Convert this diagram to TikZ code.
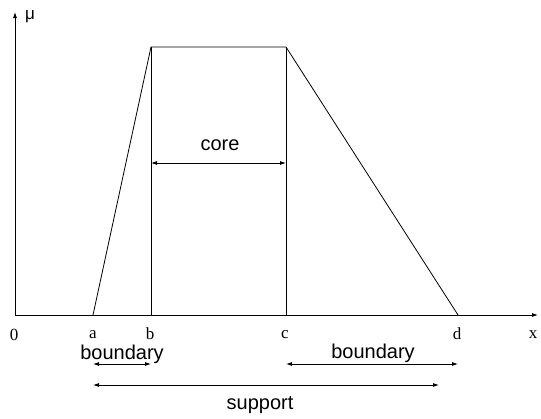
\documentclass[tikz,border=0pt]{standalone}
\usepackage{fontspec}
\setmainfont{Liberation Serif}
\setsansfont{Liberation Sans}
\usetikzlibrary{arrows.meta,positioning}

\begin{document}
\begin{tikzpicture}[
    x=1pt, y=-1pt,
    >={Latex[length=6pt,width=4pt]},
    line width=0.8pt,
    axislbl/.style={font=\fontsize{17}{20}\selectfont, inner sep=0pt},
    spanlbl/.style={font=\sffamily\fontsize{20}{24}\selectfont, inner sep=0pt},
    span/.style={<->, line width=0.8pt}
]
\useasboundingbox (0,0) rectangle (541,418);

% axes
\coordinate (origin) at (15,315);
\coordinate (ytop) at (15,12);
\coordinate (xend) at (538,315);
\draw[->] (origin) -- (ytop);
\draw[->] (origin) -- (xend);

% trapezoid
\coordinate (pa) at (93,315);
\coordinate (pb) at (151,315);
\coordinate (pc) at (286,315);
\coordinate (pd) at (458,315);
\coordinate (tb) at (151,47);
\coordinate (tc) at (286,47);
\draw (pa) -- (tb) -- (tc) -- (pd);
\draw (tb) -- (pb);
\draw (tc) -- (pc);

% axis labels
\node[axislbl] (mu) at (30,17) {\sffamily μ};
\node[axislbl] (lzero) at (14,335) {0};
\node[axislbl] (la) at (93,335) {a};
\node[axislbl] (lb) at (150,334) {b};
\node[axislbl] (lc) at (285,335) {c};
\node[axislbl] (ld) at (457,334) {d};
\node[axislbl] (lx) at (533,335) {x};

% spans
\node[spanlbl] (core) at (220,145) {core};
\coordinate (core1) at (151,163);
\coordinate (core2) at (286,163);
\draw[span] (core1) -- (core2);

\node[spanlbl] (bndleft) at (122,354) {boundary};
\coordinate (bl1) at (93,364);
\coordinate (bl2) at (151,364);
\draw[span] (bl1) -- (bl2);

\node[spanlbl] (bndright) at (373,353) {boundary};
\coordinate (br1) at (286,364);
\coordinate (br2) at (458,364);
\draw[span] (br1) -- (br2);

\coordinate (sp1) at (93,385);
\coordinate (sp2) at (439,385);
\draw[span] (sp1) -- (sp2);
\node[spanlbl] (support) at (260,405) {support};

\end{tikzpicture}
\end{document}
